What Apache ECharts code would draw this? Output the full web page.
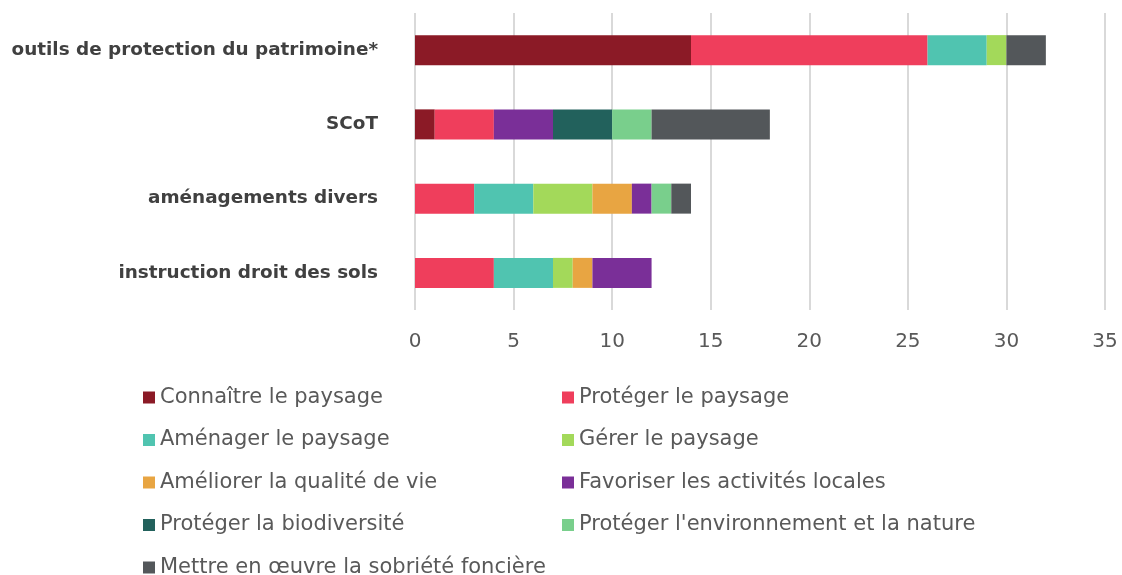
<!DOCTYPE html>
<html>
<head>
<meta charset="utf-8">
<script src="https://cdn.jsdelivr.net/npm/echarts@6/dist/echarts.min.js"></script>
<style>
  html, body { margin: 0; padding: 0; background: #fff; }
  #chart { width: 1122px; height: 575px; }
</style>
</head>
<body>
<div id="chart"></div>
<script>
// Categories, top to bottom
const categories = [
  'outils de protection du patrimoine*',
  'SCoT',
  'aménagements divers',
  'instruction droit des sols'
];

// Series names (stack order)
const seriesNames = [
  'Connaître le paysage',
  'Protéger le paysage',
  'Aménager le paysage',
  'Gérer le paysage',
  'Améliorer la qualité de vie',
  'Favoriser les activités locales',
  'Protéger la biodiversité',
  "Protéger l'environnement et la nature",
  'Mettre en œuvre la sobriété foncière'
];

const seriesColors = [
  '#8B1A26', '#EF3E5C', '#50C4B0', '#A3D95A', '#E8A542',
  '#7A2F98', '#22615C', '#79CF8C', '#53575A'
];

// Values per series, in category order
const connaitre     = [14, 1, 0, 0];
const protegerPays  = [12, 3, 3, 4];
const amenager      = [3, 0, 3, 3];
const gerer         = [1, 0, 3, 1];
const ameliorer     = [0, 0, 2, 1];
const favoriser     = [0, 3, 1, 3];
const biodiversite  = [0, 3, 0, 0];
const environnement = [0, 2, 1, 0];
const sobriete      = [2, 6, 1, 0];

const seriesValues = [connaitre, protegerPays, amenager, gerer, ameliorer,
  favoriser, biodiversite, environnement, sobriete];

const xTicks = { min: 0, max: 35, interval: 5 };

const FONT = 'DejaVu Sans';

const chart = echarts.init(document.getElementById('chart'), null, { renderer: 'canvas' });

const series = seriesNames.map((name, i) => ({
  name,
  type: 'bar',
  stack: 'total',
  barWidth: 30,
  itemStyle: { color: seriesColors[i] },
  data: seriesValues[i].map(v => (v === 0 ? null : v))
}));

// Two legend columns, filled row by row
const leftNames = seriesNames.filter((_, i) => i % 2 === 0);
const rightNames = seriesNames.filter((_, i) => i % 2 === 1);

const legendBase = {
  orient: 'vertical',
  top: 387,
  height: 240,
  padding: 0,
  itemWidth: 12,
  itemHeight: 12,
  itemGap: 21.5,
  icon: 'rect',
  textStyle: { fontFamily: FONT, fontSize: 21, color: '#595959' }
};

chart.setOption({
  animation: false,
  backgroundColor: '#fff',
  grid: { left: 415, right: 17, top: 13, bottom: 265, containLabel: false },
  xAxis: {
    type: 'value',
    min: xTicks.min,
    max: xTicks.max,
    interval: xTicks.interval,
    axisLine: { show: false },
    axisTick: { show: false },
    splitLine: { show: true, lineStyle: { color: '#d9d9d9', width: 2 } },
    axisLabel: { fontFamily: FONT, fontSize: 20, color: '#595959', margin: 22 }
  },
  yAxis: {
    type: 'category',
    inverse: true,
    data: categories,
    axisLine: { show: false },
    axisTick: { show: false },
    axisLabel: { fontFamily: FONT, fontSize: 18.4, fontWeight: 'bold', color: '#404040', margin: 37 }
  },
  legend: [
    Object.assign({}, legendBase, { left: 143, data: leftNames }),
    Object.assign({}, legendBase, { left: 562, data: rightNames })
  ],
  series
});
</script>
</body>
</html>
